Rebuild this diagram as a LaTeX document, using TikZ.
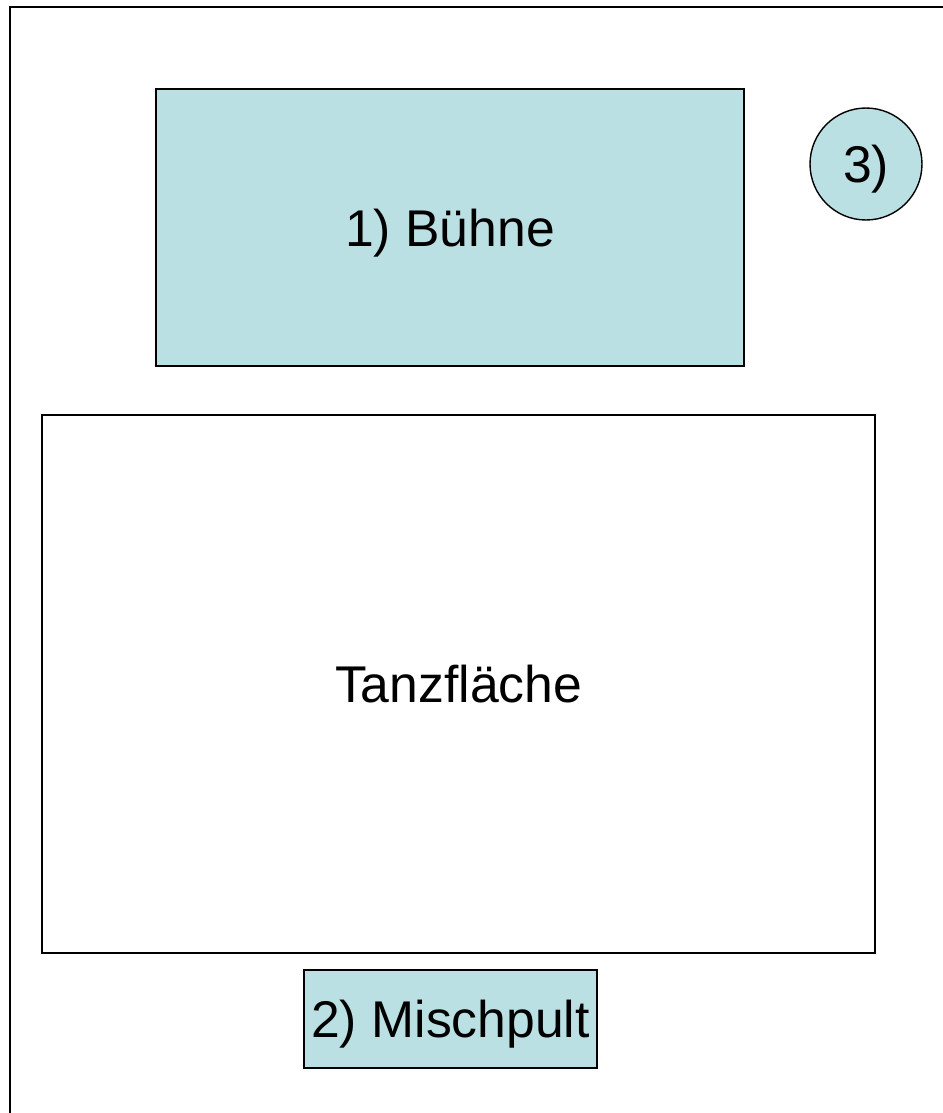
\documentclass[tikz,border=0pt]{standalone}
\usepackage{fontspec}
\setmainfont{Liberation Sans}
\definecolor{planfill}{HTML}{BBE0E3}
\tikzset{
  planbox/.style={draw=black, line width=0.8pt, inner sep=0pt, outer sep=0pt,
    text depth=0pt, font=\fontsize{29.4}{35}\selectfont},
  tealbox/.style={planbox, fill=planfill}
}
\begin{document}
\begin{tikzpicture}[x=0.02cm, y=-0.02cm]
    \useasboundingbox (0,0) rectangle (943,1113);
    % Room walls
    \coordinate (wallbl) at (10,1113);
    \coordinate (walltl) at (10,7);
    \coordinate (walltr) at (943,7);
    \draw[line width=1.2pt] (wallbl) -- (walltl) -- (walltr);
    % Areas
    \node[tealbox, minimum width=11.76cm, minimum height=5.54cm] (buehne) at (450,227.5) {1) Bühne};
    \node[tealbox, circle, minimum size=2.24cm] (drei) at (866,164) {3)};
    \node[planbox, fill=white, minimum width=16.66cm, minimum height=10.76cm] (tanz) at (458.5,684) {Tanzfläche};
    \node[tealbox, minimum width=5.86cm, minimum height=1.96cm] (misch) at (450.5,1019) {2) Mischpult};
\end{tikzpicture}
\end{document}
